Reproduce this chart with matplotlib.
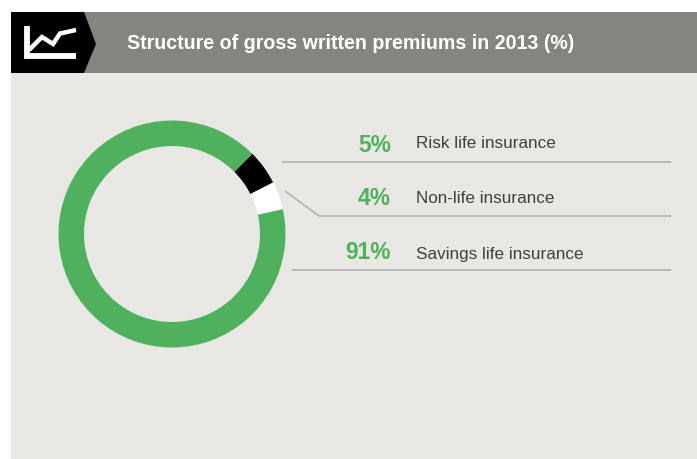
import matplotlib
matplotlib.use('Agg')
import matplotlib.pyplot as plt
from matplotlib.patches import Polygon, Rectangle

plt.rcParams['font.family'] = ['Liberation Sans', 'DejaVu Sans']

W, H = 697, 459

title = 'Structure of gross written premiums in 2013 (%)'
labels = ['Risk life insurance', 'Non-life insurance', 'Savings life insurance']
shares = [5, 4, 91]

GREEN = '#4fb15d'
BG = '#e8e7e3'
GREY = '#858580'
RULE = '#b0afa9'


# y runs downwards in the layout numbers below
def Y(y):
    return H - y


fig = plt.figure(figsize=(W / 100, H / 100), dpi=100, facecolor='white')
ax = fig.add_axes([0, 0, 1, 1])

# panel and header band
ax.add_patch(Rectangle((11, 0), W - 11, Y(73), fc=BG, ec='none', zorder=0))
ax.add_patch(Rectangle((11, Y(73)), W - 11, 61, fc=GREY, ec='none', zorder=0))
ax.add_patch(Polygon([(11, Y(12)), (84, Y(12)), (96, Y(44)), (84, Y(73)), (11, Y(73))],
                     fc='black', ec='none', zorder=1))

# chart icon
ax.plot([27, 27, 76], [Y(26), Y(56), Y(56)], color='white', lw=4.2,
        solid_joinstyle='miter', solid_capstyle='butt', zorder=2)
ax.plot([29, 42, 53, 60, 76], [Y(50), Y(37), Y(44), Y(33.5), Y(30)], color='white', lw=3.2,
        solid_joinstyle='miter', solid_capstyle='butt', zorder=2)

ax.text(127, Y(49), title, color='white', fontsize=14.1, fontweight='bold',
        ha='left', va='baseline')

# ring, clockwise from the risk life slice
ax.pie(shares, colors=['black', 'white', GREEN], center=(172, Y(234)), radius=113.5,
       startangle=45, counterclock=False, wedgeprops={'width': 25.5, 'linewidth': 0},
       frame=True)

# share rows
pct_base = [152, 205, 259]
lab_base = [148, 203, 259]
for lab, val, yp, yl in zip(labels, shares, pct_base, lab_base):
    ax.text(391, Y(yp), f'{val}%', color=GREEN, fontsize=16.4, fontweight='bold',
            ha='right', va='baseline')
    ax.text(416, Y(yl), lab, color='#3f3f3d', fontsize=12.3, ha='left', va='baseline')

ax.plot([282, 671], [Y(161.5), Y(161.5)], color=RULE, lw=1.2, solid_capstyle='butt')
ax.plot([285, 319, 671], [Y(191), Y(216), Y(216)], color=RULE, lw=1.1,
        solid_joinstyle='miter', solid_capstyle='butt')
ax.plot([292, 671], [Y(270), Y(270)], color=RULE, lw=1.2, solid_capstyle='butt')

ax.set_xlim(0, W)
ax.set_ylim(0, H)
ax.set_aspect('auto')
ax.axis('off')

fig.savefig('out.png', dpi=100, facecolor='white')
